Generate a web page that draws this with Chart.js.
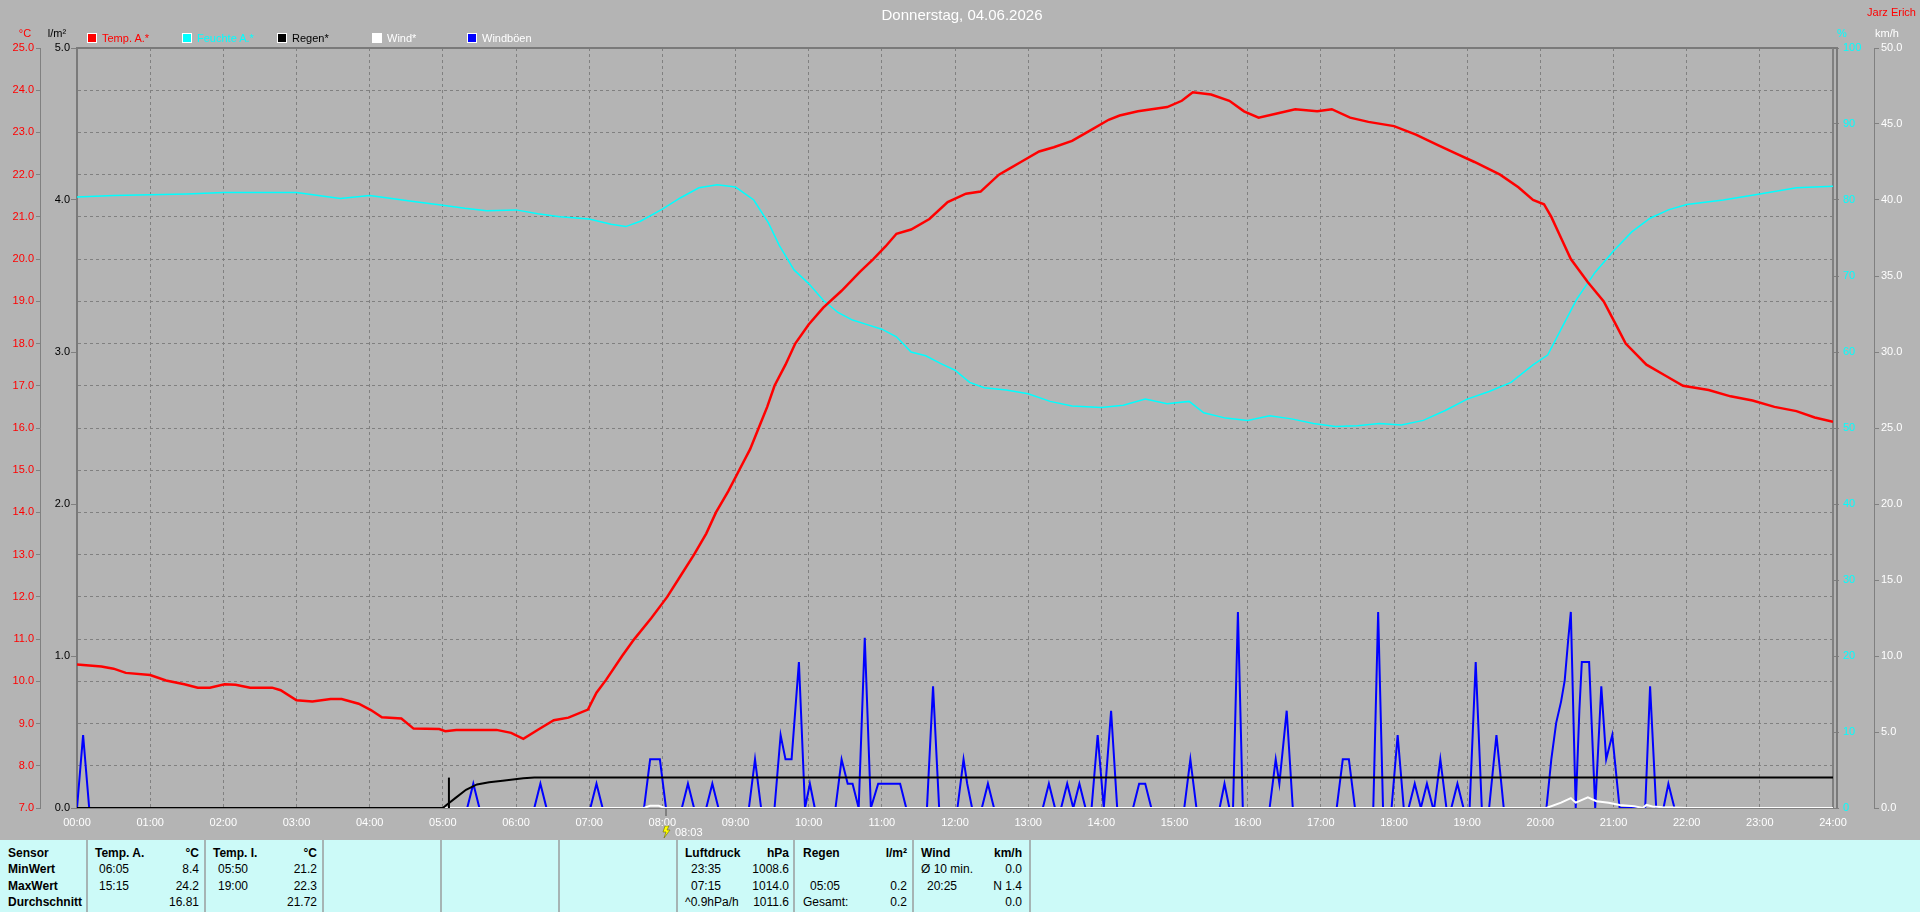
<!DOCTYPE html>
<html lang="de">
<head>
<meta charset="utf-8">
<title>Donnerstag, 04.06.2026</title>
<script src="https://cdn.jsdelivr.net/npm/chart.js@4.4.1/dist/chart.umd.min.js"></script>
<style>
  html, body { margin: 0; padding: 0; }
  body {
    width: 1920px; height: 912px; position: relative; overflow: hidden;
    background: #b4b4b4;
    font-family: "Liberation Sans", Arial, sans-serif; font-size: 11px;
  }
  #chart { position: absolute; left: 0; top: 0; }
  .t { position: absolute; white-space: nowrap; line-height: 14px; }
  .c { transform: translateX(-50%); }
  .r { transform: translateX(-100%); }
  .b { font-weight: bold; }
  #title { left: 962px; top: 6px; font-size: 15px; line-height: 18px; color: #fff; }
  #owner { left: 1916px; top: 5px; font-size: 11px; color: #f00; }
  .unit { top: 26px; }
  .lg { position: absolute; top: 33px; width: 8px; height: 8px; border: 1px solid #fff; }
  .lgt { top: 31px; }
  #panel {
    position: absolute; left: 0; top: 840px; width: 1920px; height: 72px;
    background: #ccfaf8; font-size: 12px; color: #000;
  }
  .sep { position: absolute; top: 0; width: 2px; height: 72px; background: #a6b4b4; }
</style>
</head>
<body>
<canvas id="chart" width="1920" height="840"></canvas>

<div id="title" class="t c">Donnerstag, 04.06.2026</div>
<div id="owner" class="t r">Jarz Erich</div>

<div class="t c unit" style="left:25px;color:#f00">°C</div>
<div class="t c unit" style="left:57px;color:#000">l/m²</div>
<div class="t c unit" style="left:1842px;color:#0ff">%</div>
<div class="t c unit" style="left:1887px;color:#fff">km/h</div>

<div class="lg" style="left:87px;background:#f00"></div>
<div class="t lgt" style="left:102px;color:#f00">Temp. A.*</div>
<div class="lg" style="left:182px;background:#0ff"></div>
<div class="t lgt" style="left:197px;color:#0ff">Feuchte A.*</div>
<div class="lg" style="left:277px;background:#000"></div>
<div class="t lgt" style="left:292px;color:#000">Regen*</div>
<div class="lg" style="left:372px;background:#fff"></div>
<div class="t lgt" style="left:387px;color:#fff">Wind*</div>
<div class="lg" style="left:467px;background:#00f"></div>
<div class="t lgt" style="left:482px;color:#fff">Windböen</div>

<div id="panel">
  <div class="sep" style="left:86px"></div>
  <div class="sep" style="left:204px"></div>
  <div class="sep" style="left:322px"></div>
  <div class="sep" style="left:440px"></div>
  <div class="sep" style="left:558px"></div>
  <div class="sep" style="left:676px"></div>
  <div class="sep" style="left:793px"></div>
  <div class="sep" style="left:912px"></div>
  <div class="sep" style="left:1029px"></div>

  <div class="t b" style="left:8px;top:6px">Sensor</div>
  <div class="t b" style="left:8px;top:22px">MinWert</div>
  <div class="t b" style="left:8px;top:39px">MaxWert</div>
  <div class="t b" style="left:8px;top:55px">Durchschnitt</div>

  <div class="t b" style="left:95px;top:6px">Temp. A.</div>
  <div class="t b r" style="left:199px;top:6px">°C</div>
  <div class="t" style="left:99px;top:22px">06:05</div>
  <div class="t r" style="left:199px;top:22px">8.4</div>
  <div class="t" style="left:99px;top:39px">15:15</div>
  <div class="t r" style="left:199px;top:39px">24.2</div>
  <div class="t r" style="left:199px;top:55px">16.81</div>

  <div class="t b" style="left:213px;top:6px">Temp. I.</div>
  <div class="t b r" style="left:317px;top:6px">°C</div>
  <div class="t" style="left:218px;top:22px">05:50</div>
  <div class="t r" style="left:317px;top:22px">21.2</div>
  <div class="t" style="left:218px;top:39px">19:00</div>
  <div class="t r" style="left:317px;top:39px">22.3</div>
  <div class="t r" style="left:317px;top:55px">21.72</div>

  <div class="t b" style="left:685px;top:6px">Luftdruck</div>
  <div class="t b r" style="left:789px;top:6px">hPa</div>
  <div class="t" style="left:691px;top:22px">23:35</div>
  <div class="t r" style="left:789px;top:22px">1008.6</div>
  <div class="t" style="left:691px;top:39px">07:15</div>
  <div class="t r" style="left:789px;top:39px">1014.0</div>
  <div class="t" style="left:685px;top:55px">^0.9hPa/h</div>
  <div class="t r" style="left:789px;top:55px">1011.6</div>

  <div class="t b" style="left:803px;top:6px">Regen</div>
  <div class="t b r" style="left:907px;top:6px">l/m²</div>
  <div class="t" style="left:810px;top:39px">05:05</div>
  <div class="t r" style="left:907px;top:39px">0.2</div>
  <div class="t" style="left:803px;top:55px">Gesamt:</div>
  <div class="t r" style="left:907px;top:55px">0.2</div>

  <div class="t b" style="left:921px;top:6px">Wind</div>
  <div class="t b r" style="left:1022px;top:6px">km/h</div>
  <div class="t" style="left:921px;top:22px">Ø 10 min.</div>
  <div class="t r" style="left:1022px;top:22px">0.0</div>
  <div class="t" style="left:927px;top:39px">20:25</div>
  <div class="t r" style="left:1022px;top:39px">N 1.4</div>
  <div class="t r" style="left:1022px;top:55px">0.0</div>
</div>

<script>
const FONT = "'Liberation Sans', Arial, sans-serif";

// x axis tick labels (one per hour)
const hourLabels = ['00:00', '01:00', '02:00', '03:00', '04:00', '05:00', '06:00', '07:00',
  '08:00', '09:00', '10:00', '11:00', '12:00', '13:00', '14:00', '15:00', '16:00',
  '17:00', '18:00', '19:00', '20:00', '21:00', '22:00', '23:00', '24:00'];

// Temp. A. (°C)
const tempTimes = ['00:00', '00:20', '00:30', '00:40', '01:00', '01:13', '01:28', '01:39', '01:49',
  '02:01', '02:10', '02:22', '02:40', '02:47', '03:00', '03:13', '03:28', '03:37', '03:51',
  '04:01', '04:10', '04:26', '04:36', '04:57', '05:02', '05:11', '05:44', '05:56', '06:06',
  '06:19', '06:31', '06:43', '06:59', '07:06', '07:14', '07:27', '07:37', '07:51', '08:04',
  '08:15', '08:26', '08:36', '08:44', '08:54', '09:03', '09:12', '09:19', '09:26', '09:32',
  '09:41', '09:49', '10:00', '10:12', '10:27', '10:42', '10:53', '11:03', '11:12', '11:24',
  '11:39', '11:54', '12:09', '12:21', '12:36', '12:45', '12:54', '13:09', '13:21', '13:36',
  '13:51', '14:06', '14:15', '14:30', '14:54', '15:06', '15:15', '15:30', '15:45', '15:57',
  '16:09', '16:24', '16:39', '16:57', '17:09', '17:24', '17:39', '18:00', '18:18', '18:36',
  '18:51', '19:06', '19:27', '19:42', '19:54', '20:03', '20:09', '20:17', '20:25', '20:39',
  '20:52', '21:01', '21:10', '21:27', '21:42', '21:57', '22:18', '22:36', '22:54', '23:12',
  '23:30', '23:45', '24:00'];
const tempValues = [10.4, 10.35, 10.3, 10.2, 10.15, 10.02, 9.93, 9.85, 9.85,
  9.93, 9.92, 9.85, 9.85, 9.79, 9.55, 9.52, 9.58, 9.58, 9.47,
  9.32, 9.15, 9.12, 8.88, 8.87, 8.82, 8.85, 8.85, 8.78, 8.64,
  8.87, 9.08, 9.14, 9.33, 9.73, 10.04, 10.6, 11.0, 11.5, 12.0,
  12.5, 13.0, 13.5, 14.0, 14.5, 15.0, 15.5, 16.0, 16.5, 17.0,
  17.5, 18.0, 18.45, 18.85, 19.25, 19.7, 20.0, 20.3, 20.6, 20.7,
  20.95, 21.35, 21.55, 21.6, 22.0, 22.15, 22.3, 22.55, 22.65, 22.8,
  23.05, 23.3, 23.4, 23.5, 23.6, 23.75, 23.95, 23.9, 23.75, 23.5,
  23.35, 23.45, 23.55, 23.5, 23.55, 23.35, 23.25, 23.15, 22.95, 22.7,
  22.5, 22.3, 22.0, 21.7, 21.4, 21.3, 21.0, 20.5, 20.0, 19.45,
  19.0, 18.5, 18.0, 17.5, 17.25, 17.0, 16.9, 16.75, 16.65, 16.5,
  16.4, 16.25, 16.15];

// Feuchte A. (%)
const humTimes = ['00:00', '00:30', '01:00', '01:30', '02:00', '02:30', '03:00', '03:18', '03:36',
  '04:00', '04:18', '04:36', '05:00', '05:18', '05:36', '06:00', '06:18', '06:36', '07:00',
  '07:18', '07:30', '07:42', '08:00', '08:15', '08:30', '08:45', '09:00', '09:15', '09:27',
  '09:36', '09:48', '10:00', '10:12', '10:24', '10:36', '10:48', '11:00', '11:12', '11:24',
  '11:36', '11:48', '12:00', '12:12', '12:24', '12:42', '13:00', '13:18', '13:36', '14:00',
  '14:18', '14:36', '14:54', '15:12', '15:24', '15:42', '16:00', '16:18', '16:36', '16:54',
  '17:12', '17:30', '17:48', '18:06', '18:24', '18:42', '19:00', '19:18', '19:36', '19:54',
  '20:06', '20:18', '20:30', '20:45', '21:00', '21:15', '21:30', '21:45', '22:00', '22:30',
  '23:00', '23:30', '24:00'];
const humValues = [80.4, 80.6, 80.7, 80.8, 81.0, 81.0, 81.0, 80.6, 80.2,
  80.6, 80.2, 79.8, 79.3, 78.9, 78.6, 78.7, 78.2, 77.8, 77.5,
  76.8, 76.5, 77.2, 78.8, 80.3, 81.6, 82.0, 81.7, 80.0, 77.0,
  74.0, 70.8, 69.0, 66.8, 65.2, 64.2, 63.6, 63.0, 62.0, 60.0,
  59.5, 58.5, 57.6, 56.0, 55.3, 55.0, 54.5, 53.5, 52.9, 52.7,
  53.0, 53.8, 53.2, 53.5, 52.0, 51.3, 51.0, 51.6, 51.2, 50.6,
  50.2, 50.3, 50.6, 50.4, 51.0, 52.3, 53.8, 54.8, 56.0, 58.3,
  59.6, 63.3, 67.0, 70.5, 73.3, 75.8, 77.6, 78.7, 79.4, 80.0,
  80.8, 81.6, 81.8];

// Regen (l/m², accumulated) and the single rain event
const rainTimes = ['00:00', '05:00', '05:03', '05:11', '05:19', '05:28', '05:38', '05:49', '06:06', '06:15', '24:00'];
const rainValues = [0, 0, 0.02, 0.07, 0.12, 0.155, 0.17, 0.18, 0.196, 0.2, 0.2];
const rainEventTime = '05:05';
const rainEventValue = 0.2;

// Wind (km/h)
const windTimes = ['00:00', '07:45', '07:50', '07:57', '08:02', '20:05', '20:17', '20:25', '20:29',
  '20:39', '20:46', '20:56', '21:05', '21:17', '21:24', '21:27', '21:32', '21:40', '22:00', '24:00'];
const windValues = [0, 0, 0.15, 0.15, 0, 0, 0.35, 0.65, 0.35,
  0.7, 0.45, 0.35, 0.2, 0.12, 0, 0.2, 0.1, 0.05, 0, 0];

// Windböen (km/h)
const gustTimes = ['00:00', '00:05', '00:10', '05:20', '05:25', '05:30', '06:15', '06:20', '06:25',
  '07:01', '07:06', '07:11', '07:45', '07:50', '07:58', '08:03', '08:16', '08:21', '08:26',
  '08:36', '08:41', '08:46', '09:11', '09:16', '09:21', '09:32', '09:37', '09:41', '09:46',
  '09:52', '09:57', '10:01', '10:05', '10:22', '10:27', '10:32', '10:36', '10:41', '10:46',
  '10:51', '10:57', '11:15', '11:20', '11:37', '11:42', '11:47', '12:02', '12:07', '12:10',
  '12:14', '12:22', '12:27', '12:32', '13:12', '13:17', '13:22', '13:27', '13:32', '13:37',
  '13:42', '13:47', '13:52', '13:57', '14:02', '14:08', '14:13', '14:26', '14:31', '14:36',
  '14:41', '15:08', '15:13', '15:18', '15:37', '15:41', '15:45', '15:48', '15:52', '15:56',
  '16:18', '16:23', '16:26', '16:32', '16:37', '17:13', '17:18', '17:23', '17:28', '17:43',
  '17:47', '17:51', '17:58', '18:03', '18:08', '18:12', '18:17', '18:22', '18:27', '18:32',
  '18:33', '18:38', '18:43', '18:47', '18:52', '18:57', '19:02', '19:07', '19:12', '19:18',
  '19:24', '19:30', '20:05', '20:09', '20:13', '20:17', '20:20', '20:23', '20:25', '20:29',
  '20:32', '20:34', '20:40', '20:45', '20:50', '20:54', '20:59', '21:05', '21:26', '21:30',
  '21:35', '21:41', '21:45', '21:50', '24:00'];
const gustValues = [0, 4.8, 0, 0, 1.6, 0, 0, 1.6, 0,
  0, 1.6, 0, 0, 3.2, 3.2, 0, 0, 1.6, 0,
  0, 1.6, 0, 0, 3.2, 0, 0, 4.8, 3.2, 3.2,
  9.6, 0, 1.6, 0, 0, 3.2, 1.6, 1.6, 0, 11.2,
  0, 1.6, 1.6, 0, 0, 8.0, 0, 0, 3.2, 1.6,
  0, 0, 1.6, 0, 0, 1.6, 0, 0, 1.6, 0,
  1.6, 0, 0, 4.8, 0, 6.4, 0, 0, 1.6, 1.6,
  0, 0, 3.2, 0, 0, 1.6, 0, 0, 12.9, 0,
  0, 3.2, 1.6, 6.4, 0, 0, 3.2, 3.2, 0, 0,
  12.9, 0, 0, 4.8, 0, 0, 1.6, 0, 1.6, 0,
  0, 3.2, 0, 0, 1.6, 0, 0, 9.6, 0, 0,
  4.8, 0, 0, 3.2, 5.6, 7.0, 8.4, 11.2, 12.9, 0,
  6.4, 9.6, 9.6, 0, 8.0, 3.2, 4.8, 0, 0, 8.0,
  0, 0, 1.6, 0, 0];

// marker under the time axis
const markerTime = '08:03';

function toHours(t) {
  const [h, m] = t.split(':').map(Number);
  return h + m / 60;
}

function series(times, values) {
  return times.map((t, i) => ({ x: toHours(t), y: values[i] }));
}

const framePlugin = {
  id: 'frame',
  beforeDatasetsDraw(chart) {
    const { ctx, chartArea: a } = chart;
    ctx.save();
    ctx.strokeStyle = '#7a7a7a';
    ctx.lineWidth = 2;
    ctx.beginPath();
    ctx.moveTo(a.left - 1, a.top);
    ctx.lineTo(a.right + 5, a.top);
    ctx.moveTo(a.right + 4, a.top);
    ctx.lineTo(a.right + 4, a.bottom);
    ctx.stroke();
    ctx.lineWidth = 1;
    ctx.strokeStyle = '#808080';
    ctx.beginPath();
    ctx.moveTo(a.right - 0.5, a.top);
    ctx.lineTo(a.right - 0.5, a.bottom);
    ctx.stroke();
    ctx.restore();
  },
  afterDraw(chart) {
    const { ctx, chartArea: a } = chart;
    const x = Math.round(chart.scales.x.getPixelForValue(toHours(markerTime)));
    const y = a.bottom;
    ctx.save();
    ctx.strokeStyle = '#808080';
    ctx.lineWidth = 2;
    ctx.beginPath();
    ctx.moveTo(x, y);
    ctx.lineTo(x, y + 8);
    ctx.stroke();
    // small lightning bolt
    ctx.fillStyle = '#ffff00';
    ctx.strokeStyle = '#6b6b00';
    ctx.lineWidth = 0.6;
    ctx.beginPath();
    ctx.moveTo(x - 1, y + 18);
    ctx.lineTo(x + 3, y + 18);
    ctx.lineTo(x + 1, y + 22);
    ctx.lineTo(x + 4, y + 22);
    ctx.lineTo(x - 2, y + 30);
    ctx.lineTo(x, y + 24);
    ctx.lineTo(x - 3, y + 24);
    ctx.closePath();
    ctx.fill();
    ctx.stroke();
    ctx.fillStyle = '#ffffff';
    ctx.font = '11px ' + FONT;
    ctx.textBaseline = 'middle';
    ctx.fillText(markerTime, x + 9, y + 25);
    ctx.restore();
  }
};

Chart.defaults.font.family = FONT;
Chart.defaults.font.size = 11;

new Chart(document.getElementById('chart').getContext('2d'), {
  type: 'line',
  data: {
    datasets: [{
      label: 'Temp. A.*',
      data: series(tempTimes, tempValues),
      yAxisID: 'yTemp',
      borderColor: '#ff0000',
      borderWidth: 2.5
    }, {
      label: 'Feuchte A.*',
      data: series(humTimes, humValues),
      yAxisID: 'yHum',
      borderColor: '#00ffff',
      borderWidth: 1.5
    }, {
      label: 'Regen*',
      data: series(rainTimes, rainValues),
      yAxisID: 'yRain',
      borderColor: '#000000',
      borderWidth: 2
    }, {
      label: 'Regen',
      data: series([rainEventTime, rainEventTime], [0, rainEventValue]),
      yAxisID: 'yRain',
      borderColor: '#000000',
      borderWidth: 2
    }, {
      label: 'Wind*',
      data: series(windTimes, windValues),
      yAxisID: 'yWind',
      borderColor: '#ffffff',
      borderWidth: 2
    }, {
      label: 'Windböen',
      data: series(gustTimes, gustValues),
      yAxisID: 'yWind',
      borderColor: '#0000ff',
      borderWidth: 2
    }]
  },
  options: {
    responsive: false,
    animation: false,
    events: [],
    layout: { padding: { top: 48, left: 0, right: 0, bottom: 0 } },
    plugins: {
      legend: { display: false },
      tooltip: { enabled: false }
    },
    elements: {
      point: { radius: 0 },
      line: { tension: 0, fill: false }
    },
    scales: {
      x: {
        type: 'linear',
        min: 0,
        max: 24,
        afterFit: s => { s.height = 32; },
        ticks: {
          stepSize: 1,
          autoSkip: false,
          maxRotation: 0,
          color: '#ffffff',
          padding: 8,
          callback: v => hourLabels[v]
        },
        grid: { color: '#808080', drawTicks: false },
        border: { color: '#808080', width: 1, dash: [3, 3] }
      },
      yTemp: {
        position: 'left',
        weight: 2,
        min: 7,
        max: 25,
        afterFit: s => { s.width = 40; },
        ticks: { stepSize: 1, color: '#ff0000', padding: 2, callback: v => v.toFixed(1) },
        grid: { color: '#808080', tickColor: '#808080', tickLength: 4 },
        border: { color: '#808080', width: 1, dash: [3, 3] }
      },
      yRain: {
        position: 'left',
        weight: 1,
        min: 0,
        max: 5,
        afterFit: s => { s.width = 37; },
        ticks: { stepSize: 1, color: '#000000', padding: 1, callback: v => v.toFixed(1) },
        grid: { drawOnChartArea: false, tickColor: '#808080', tickLength: 6 },
        border: { color: '#7a7a7a', width: 2 }
      },
      yHum: {
        position: 'right',
        weight: 1,
        min: 0,
        max: 100,
        afterFit: s => { s.width = 41; },
        ticks: { stepSize: 10, color: '#00ffff', padding: 4 },
        grid: { drawOnChartArea: false, tickColor: '#808080', tickLength: 6 },
        border: { color: '#808080', width: 1 }
      },
      yWind: {
        position: 'right',
        weight: 2,
        min: 0,
        max: 50,
        afterFit: s => { s.width = 46; },
        ticks: { stepSize: 5, color: '#ffffff', padding: 2, callback: v => v.toFixed(1) },
        grid: { drawOnChartArea: false, tickColor: '#808080', tickLength: 5 },
        border: { color: '#808080', width: 1 }
      }
    }
  },
  plugins: [framePlugin]
});
</script>
</body>
</html>
